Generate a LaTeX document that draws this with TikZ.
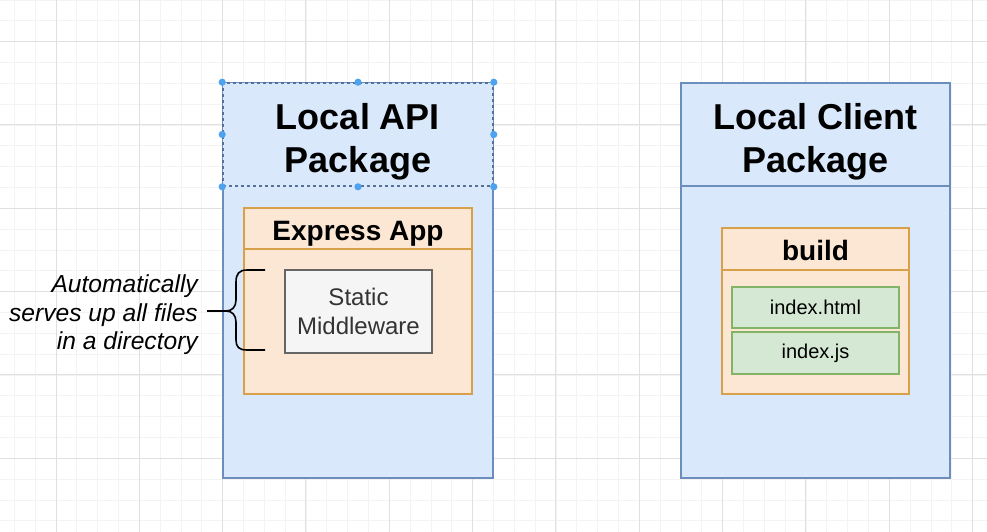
\documentclass[tikz,border=0pt]{standalone}
\usepackage{fontspec}
\setmainfont{Liberation Sans}
\usetikzlibrary{calc}
\definecolor{gridminor}{HTML}{F3F3F3}
\definecolor{gridmajor}{HTML}{E0E0E0}
\definecolor{pkgfill}{HTML}{DAE8FC}
\definecolor{pkgborder}{HTML}{6C8EBF}
\definecolor{appfill}{HTML}{FCE6D4}
\definecolor{appborder}{HTML}{D9A04A}
\definecolor{filefill}{HTML}{D5E8D4}
\definecolor{fileborder}{HTML}{82B366}
\definecolor{mwfill}{HTML}{F5F5F5}
\definecolor{mwborder}{HTML}{666666}
\definecolor{mwtext}{HTML}{333333}
\definecolor{handle}{HTML}{4FA3EE}

\begin{document}
\begin{tikzpicture}[
  x=1pt, y=-1pt,
  box/.style={rectangle, inner sep=0pt, anchor=center, align=center},
  pkg/.style={box, draw=pkgborder, fill=pkgfill, line width=1.6pt, minimum width=270pt},
  pkghead/.style={pkg, minimum height=103pt},
  headtext/.style={box, font=\fontsize{36}{43}\selectfont\bfseries},
  app/.style={box, draw=appborder, fill=appfill, line width=1.6pt},
  apphead/.style={app, text height=23pt, text depth=0pt, font=\fontsize{28}{32}\selectfont\bfseries},
  filebox/.style={box, draw=fileborder, fill=filefill, line width=1.6pt,
    minimum width=167pt, minimum height=41pt, font=\fontsize{20}{24}\selectfont},
  mwbox/.style={box, draw=mwborder, fill=mwfill, line width=1.6pt, text=mwtext,
    minimum width=147pt, minimum height=83pt, font=\fontsize{24}{29}\selectfont},
  note/.style={align=right, inner ysep=0pt, inner xsep=9pt, anchor=east,
    font=\fontsize{24.6}{28.5}\selectfont\itshape},
  brace/.style={draw=black, line width=1.6pt}
]
\useasboundingbox (0,0) rectangle (987,532);
\fill[white] (0,0) rectangle (987,532);

% background grid, minor then major lines
\foreach \gx in {0,...,47}
  \draw[gridminor, line width=0.8pt] ({14.4+20.83*\gx},0) -- ({14.4+20.83*\gx},532);
\foreach \gy in {0,...,25}
  \draw[gridminor, line width=0.8pt] (0,{20.83*\gy}) -- (987,{20.83*\gy});
\foreach \gx in {0,...,11}
  \draw[gridmajor, line width=1pt] ({56+83.33*\gx},0) -- ({56+83.33*\gx},532);
\foreach \gy in {0,...,5}
  \draw[gridmajor, line width=1pt] (0,{41.5+83.33*\gy}) -- (987,{41.5+83.33*\gy});

% Local API Package
\node[pkg, minimum height=395pt] (apibox) at (358,280.5) {};
\node[pkghead, draw=pkgborder!80!black, dashed] (apihead) at (358,134.5) {};
\node[headtext] (apititle) at ($(apihead.center)+(0,7)$) {Local API\\Package};
\node[app, minimum width=228pt, minimum height=186pt] (expressbox) at (358,301) {};
\node[apphead, minimum width=228pt, minimum height=41pt] (expresshead) at (358,228.5) {Express App};
\node[mwbox] (static) at (358.5,311.5) {Static\\Middleware};

% Local Client Package
\node[pkg, minimum width=269pt, minimum height=395pt] (clientbox) at (815.5,280.5) {};
\node[pkghead, minimum width=269pt] (clienthead) at (815.5,134.5) {};
\node[headtext] (clienttitle) at ($(clienthead.center)+(0,7)$) {Local Client\\Package};
\node[app, minimum width=187pt, minimum height=166pt] (buildbox) at (815.5,311) {};
\node[apphead, minimum width=187pt, minimum height=42pt] (buildhead) at (815.5,249) {build};
\node[filebox] (indexhtml) at (815.5,307.5) {index.html};
\node[filebox, minimum height=42pt] (indexjs) at (815.5,353) {index.js};

% curly brace pointing at the middleware
\coordinate (bracetop) at (265,270);
\coordinate (bracebot) at (265,350);
\coordinate (bracetip) at (226,311);
\draw[brace] (bracetop) -- (247,270) .. controls (239,270) and (236,274) .. (236,282)
  -- (236,300) .. controls (236,307) and (232,311) .. (bracetip)
  .. controls (232,311) and (236,315) .. (236,322)
  -- (236,340) .. controls (236,347) and (239,350) .. (247,350) -- (bracebot);
\node[note] (servesnote) at (207,315) {Automatically\\serves up all files\\in a directory};
\draw[brace] (servesnote.east |- bracetip) -- (bracetip);

% selection handles on the header
\foreach \h in {north west,north,north east,west,east,south west,south,south east}
  \fill[handle] (apihead.\h) circle (3.6pt);
\end{tikzpicture}
\end{document}
